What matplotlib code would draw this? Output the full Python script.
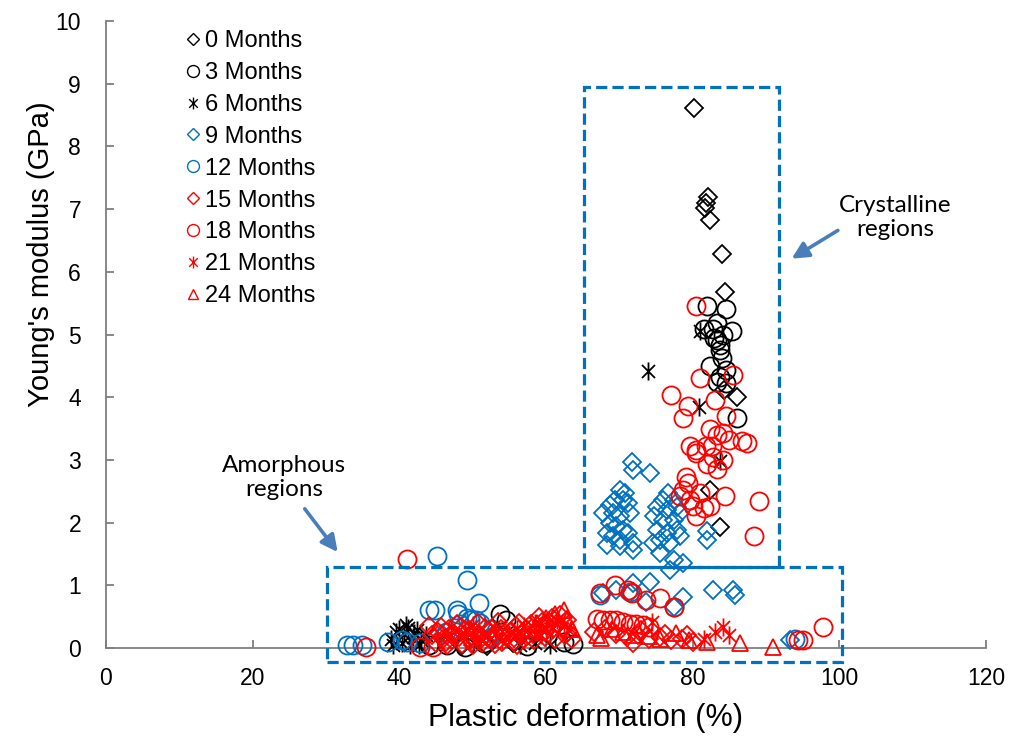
import matplotlib
matplotlib.use("Agg")
import matplotlib.pyplot as plt
from matplotlib.path import Path
from matplotlib.patches import Rectangle

# ---- data: plastic deformation (%) vs Young's modulus (GPa) ----
m0_x = [80.2, 82.1, 81.8, 81.7, 82.3, 84.0, 84.4, 86.0, 82.4, 83.7, 84.3,
        48.5, 52.0, 55.5]
m0_y = [8.62, 7.20, 7.10, 7.02, 6.82, 6.28, 5.68, 4.01, 2.52, 1.93, 4.12,
        0.05, 0.03, 0.08]

m3_x = [81.9, 84.6, 83.3, 81.5, 82.8, 85.3, 84.2, 83.3, 83.7, 83.7, 82.4,
        84.6, 83.7, 84.6, 83.3, 86.0, 84.0, 82.9,
        53.7, 54.5, 57.4, 62.4, 63.7, 46.5, 49.0, 51.5, 44.0]
m3_y = [5.45, 5.40, 5.19, 5.08, 5.08, 5.05, 5.00, 4.92, 4.84, 4.76, 4.49,
        4.44, 4.33, 4.23, 4.25, 3.67, 4.62, 4.95,
        0.55, 0.45, 0.03, 0.10, 0.07, 0.05, 0.02, 0.08, 0.04]

m6_x = [73.9, 80.8, 81.0, 83.7,
        38.8, 39.5, 40.0, 40.6, 41.2, 41.8, 42.4, 43.0, 39.2, 40.3, 41.5,
        42.7, 43.6, 40.9, 42.0, 56.5, 58.5, 60.5]
m6_y = [4.41, 3.85, 5.05, 2.98,
        0.15, 0.25, 0.30, 0.22, 0.32, 0.18, 0.28, 0.12, 0.05, 0.08, 0.05,
        0.04, 0.20, 0.36, 0.24, 0.05, 0.08, 0.04]

m9_x = [71.7, 71.9, 74.2, 70.1, 70.8, 69.4, 68.7, 70.5, 71.2, 67.8, 69.2,
        70.1, 71.4, 68.7, 69.6, 70.5, 68.3, 69.2, 70.1, 71.2, 71.9, 68.3,
        70.1, 71.9,
        76.7, 76.0, 77.4, 75.1, 76.5, 77.8, 74.7, 76.0, 77.4, 78.3, 75.1,
        76.5, 77.8, 75.6, 76.9, 78.3, 81.9, 74.6, 75.5, 77.4, 78.7, 76.9,
        81.9,
        71.9, 74.2, 67.8, 69.6, 71.5, 78.7, 77.4, 73.7, 82.8, 85.5, 85.8,
        93.3, 46.0, 52.5]
m9_y = [2.97, 2.84, 2.79, 2.52, 2.47, 2.36, 2.28, 2.36, 2.31, 2.15, 2.15,
        2.10, 2.15, 1.99, 1.94, 1.88, 1.83, 1.78, 1.73, 1.83, 1.67, 1.65,
        1.62, 1.57,
        2.47, 2.36, 2.36, 2.25, 2.20, 2.25, 2.10, 2.04, 2.04, 2.15, 1.88,
        1.83, 1.88, 1.73, 1.67, 1.78, 1.86, 1.67, 1.51, 1.41, 1.35, 1.25,
        1.73,
        1.03, 1.06, 0.87, 0.93, 0.87, 0.82, 0.66, 0.74, 0.93, 0.93, 0.85,
        0.13, 0.20, 0.15]

m12_x = [32.8, 33.7, 34.9, 38.5, 40.3, 41.0, 42.8, 44.0, 44.9, 45.1, 49.2,
         50.8, 48.0, 49.2, 50.5, 46.4, 48.3, 49.6, 47.8, 51.0, 67.4, 71.5,
         77.4, 94.0]
m12_y = [0.05, 0.05, 0.05, 0.10, 0.12, 0.10, 0.08, 0.61, 0.61, 1.47, 1.08,
         0.71, 0.55, 0.48, 0.45, 0.26, 0.39, 0.45, 0.61, 0.40, 0.85, 0.89,
         0.66, 0.14]

m15_x = [44.5, 45.3, 46.0, 46.8, 47.5, 48.2, 48.9, 49.6, 50.3, 51.0, 51.7,
         52.4, 53.1, 53.8, 54.5, 55.2, 55.9, 56.6, 57.3, 58.0, 58.7, 59.4,
         60.1, 60.8, 61.5, 62.2, 63.0,
         45.0, 46.3, 47.2, 48.6, 49.9, 51.3, 52.7, 54.0, 55.6, 57.0, 58.4,
         59.8, 61.2, 62.6, 44.0, 47.9, 50.7, 53.5, 56.3, 59.1, 61.9,
         45.7, 47.0, 48.4, 49.8, 51.2, 52.6, 54.2, 55.7, 57.6, 59.9, 61.0,
         62.9, 46.5, 50.0, 53.0, 56.0, 58.2, 60.4, 63.6,
         66.5, 68.0, 69.5, 71.0, 72.5, 74.0, 75.5, 77.0, 78.5, 80.0, 71.9,
         73.0, 76.2, 79.2]
m15_y = [0.20, 0.25, 0.15, 0.30, 0.22, 0.18, 0.28, 0.12, 0.25, 0.20, 0.32,
         0.16, 0.24, 0.30, 0.18, 0.27, 0.35, 0.22, 0.30, 0.38, 0.28, 0.42,
         0.35, 0.48, 0.40, 0.30, 0.25,
         0.08, 0.10, 0.12, 0.06, 0.10, 0.08, 0.12, 0.10, 0.09, 0.14, 0.12,
         0.18, 0.15, 0.20, 0.35, 0.38, 0.40, 0.42, 0.40, 0.50, 0.52,
         0.33, 0.22, 0.34, 0.18, 0.14, 0.30, 0.22, 0.16, 0.20, 0.26, 0.30,
         0.45, 0.05, 0.04, 0.06, 0.05, 0.22, 0.42, 0.15,
         0.25, 0.30, 0.22, 0.18, 0.20, 0.15, 0.18, 0.12, 0.15, 0.10, 0.08,
         0.28, 0.22, 0.20]

m18_x = [80.5, 81.0, 77.1, 79.4, 78.7, 83.0, 85.5, 84.6, 82.4, 83.3, 84.2,
         79.6, 80.5, 81.8, 82.7, 86.7, 85.0, 87.4, 80.5, 82.8, 84.2, 81.9,
         83.3, 79.1, 79.3, 78.7, 78.3, 79.6, 81.0, 80.1, 81.5, 82.4, 80.5,
         84.4, 89.0, 88.3,
         67.4, 69.4, 71.2, 71.7, 73.7, 75.5, 77.5, 66.9, 67.8, 68.7, 69.6,
         70.5, 71.4, 72.3, 73.2, 74.1, 94.4, 95.0, 97.8, 41.0, 35.5, 42.8,
         44.6]
m18_y = [5.45, 4.31, 4.04, 3.86, 3.67, 3.96, 4.36, 3.70, 3.49, 3.40, 3.43,
         3.22, 3.16, 3.22, 3.22, 3.30, 3.32, 3.27, 3.11, 3.05, 3.00, 2.93,
         2.85, 2.73, 2.63, 2.52, 2.42, 2.36, 2.47, 2.26, 2.23, 2.26, 2.10,
         2.42, 2.34, 1.78,
         0.87, 1.01, 0.93, 0.87, 0.77, 0.79, 0.66, 0.47, 0.45, 0.45, 0.45,
         0.42, 0.39, 0.39, 0.37, 0.34, 0.13, 0.12, 0.34, 1.42, 0.02, 0.02,
         0.02]

m21_x = [47.0, 49.0, 51.0, 53.0, 55.0, 57.0, 58.5, 60.0, 61.5, 62.5,
         50.0, 54.0, 56.0, 59.3,
         74.4, 81.5, 83.0, 84.2, 85.0]
m21_y = [0.20, 0.28, 0.15, 0.30, 0.22, 0.35, 0.40, 0.30, 0.45, 0.38,
         0.36, 0.12, 0.30, 0.20,
         0.42, 0.15, 0.25, 0.34, 0.20]

m24_x = [57.5, 58.8, 60.0, 61.2, 62.4, 62.8, 63.5, 66.9, 67.5, 69.0,
         70.5, 72.0, 74.1, 75.5, 77.7, 79.5, 82.0, 86.5, 91.0]
m24_y = [0.30, 0.40, 0.48, 0.55, 0.61, 0.45, 0.30, 0.21, 0.16, 0.30,
         0.25, 0.20, 0.19, 0.15, 0.24, 0.12, 0.10, 0.08, 0.02]

labels = ["0 Months", "3 Months", "6 Months", "9 Months", "12 Months",
          "15 Months", "18 Months", "21 Months", "24 Months"]

BLACK = "#000000"
BLUE = "#0070C0"
RED = "#FF0000"

# six-armed asterisk: a vertical bar plus a cross
star = Path([(0, -1), (0, 1), (-0.72, -0.72), (0.72, 0.72),
             (-0.72, 0.72), (0.72, -0.72)],
            [Path.MOVETO, Path.LINETO, Path.MOVETO, Path.LINETO,
             Path.MOVETO, Path.LINETO])

series = [
    (m0_x, m0_y, "D", BLACK, 9.5),
    (m3_x, m3_y, "o", BLACK, 13),
    (m6_x, m6_y, star, BLACK, 13),
    (m9_x, m9_y, "D", BLUE, 9.5),
    (m12_x, m12_y, "o", BLUE, 13),
    (m15_x, m15_y, "D", RED, 9.5),
    (m18_x, m18_y, "o", RED, 13),
    (m21_x, m21_y, star, RED, 13),
    (m24_x, m24_y, "^", RED, 11),
]

plt.rcParams["font.family"] = ["Liberation Sans", "DejaVu Sans"]

fig = plt.figure(figsize=(10.12, 7.44), dpi=100)
ax = fig.add_axes([106 / 1012, 96 / 744, 880 / 1012, 627 / 744])

handles = []
for (xs, ys, mk, col, ms), lab in zip(series, labels):
    ax.plot(xs, ys, linestyle="none", marker=mk, markersize=ms,
            markerfacecolor="none", markeredgecolor=col,
            markeredgewidth=1.3, clip_on=False, zorder=3)
    h, = ax.plot([], [], linestyle="none", marker=mk,
                 markersize=ms * 0.66, markerfacecolor="none",
                 markeredgecolor=col, markeredgewidth=1.0, label=lab)
    handles.append(h)

ax.set_xlim(0, 120)
ax.set_ylim(0, 10)
ax.set_xticks(range(0, 121, 20))
ax.set_yticks(range(0, 11))

for side in ("top", "right"):
    ax.spines[side].set_visible(False)
for side in ("left", "bottom"):
    ax.spines[side].set_color("#7f7f7f")
    ax.spines[side].set_linewidth(1.3)
ax.tick_params(direction="in", length=6, width=1.3, color="#7f7f7f",
               labelsize=16.5, pad=14)
ax.tick_params(axis="y", pad=18)

ax.set_xlabel("Plastic deformation (%)", fontsize=22)
ax.set_ylabel("Young's modulus (GPa)", fontsize=21)
ax.xaxis.set_label_coords(0.545, -0.088)
ax.yaxis.set_label_coords(-0.058, 0.628)

ax.legend(handles=handles, loc="upper left",
          bbox_to_anchor=(186 / 1012, 1 - 30 / 744),
          bbox_transform=fig.transFigure, frameon=False, fontsize=17,
          handlelength=0.6, handletextpad=0.2, labelspacing=0.42,
          borderpad=0, borderaxespad=0)

# dashed boxes marking the two regions
box_kw = dict(fill=False, edgecolor=BLUE, linewidth=2.3,
              linestyle=(0, (3.5, 1.6)), clip_on=False, zorder=4)
ax.add_patch(Rectangle((30.1, -0.22), 100.3 - 30.1, 1.29 + 0.22, **box_kw))
ax.add_patch(Rectangle((65.2, 1.29), 91.8 - 65.2, 8.95 - 1.29, **box_kw))

arrow_kw = dict(arrowstyle="-|>,head_length=1.0,head_width=0.5",
                color="#4A7EBB", linewidth=2.6, shrinkA=0, shrinkB=0)
ax.annotate("", xy=(93.5, 6.21), xytext=(99.8, 6.66),
            arrowprops=arrow_kw, annotation_clip=False)
ax.annotate("", xy=(31.6, 1.53), xytext=(27.1, 2.22),
            arrowprops=arrow_kw, annotation_clip=False)
ax.text(107.6, 6.87, "Crystalline\nregions", ha="center", va="center",
        fontsize=17.5, family=["Lato", "DejaVu Sans"], linespacing=1.15)
ax.text(24.3, 2.72, "Amorphous\nregions", ha="center", va="center",
        fontsize=17.5, family=["Lato", "DejaVu Sans"], linespacing=1.15)

fig.savefig("out.png", dpi=100)
